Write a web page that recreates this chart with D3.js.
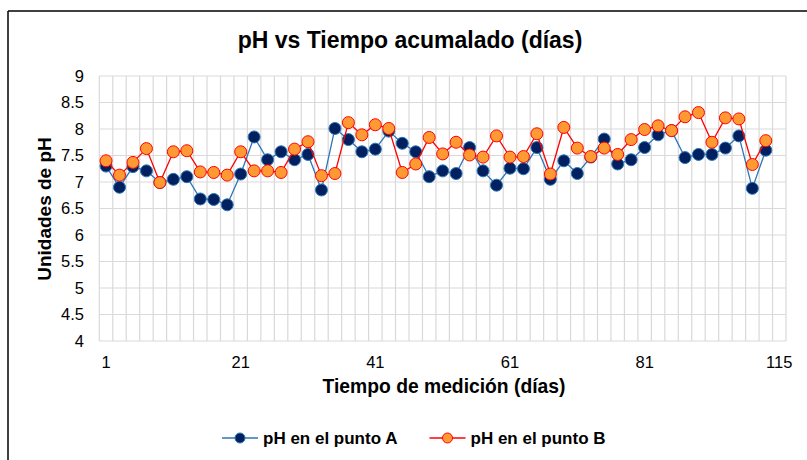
<!DOCTYPE html>
<html>
<head>
<meta charset="utf-8">
<script src="https://cdn.jsdelivr.net/npm/d3@7"></script>
<style>
  html, body { margin: 0; padding: 0; background: #fff; }
  svg { display: block; font-family: "Liberation Sans", Arial, sans-serif; }
</style>
</head>
<body>
<svg id="chart" width="807" height="460"></svg>
<script>
// ---- Data ----
const days = [1,3,5,7,9,11,13,15,17,19,21,23,25,27,29,31,33,35,37,39,
              41,43,45,47,49,51,53,55,57,59,61,63,65,67,69,71,73,75,77,79,
              81,83,85,87,89,91,93,95,97,99,115];
const phA = [7.30,6.90,7.29,7.21,6.99,7.05,7.10,6.68,6.67,6.57,
             7.15,7.85,7.42,7.57,7.42,7.52,6.85,8.01,7.80,7.57,
             7.62,7.96,7.73,7.57,7.10,7.21,7.16,7.65,7.21,6.94,
             7.26,7.25,7.65,7.05,7.40,7.16,7.47,7.81,7.34,7.42,
             7.65,7.89,7.97,7.46,7.52,7.52,7.64,7.87,6.88,7.60,null];
const phB = [7.40,7.13,7.37,7.63,6.99,7.57,7.59,7.19,7.18,7.13,
             7.57,7.21,7.21,7.18,7.62,7.76,7.12,7.16,8.12,7.89,
             8.08,8.01,7.18,7.34,7.84,7.53,7.75,7.51,7.47,7.87,
             7.47,7.48,7.91,7.15,8.03,7.64,7.48,7.64,7.52,7.80,
             7.99,8.06,7.97,8.23,8.31,7.75,8.21,8.19,7.33,7.78,null];
const yTicks = [4,4.5,5,5.5,6,6.5,7,7.5,8,8.5,9];
const xTickLabels = [1,21,41,61,81,115];
const seriesNames = ["pH en el punto A", "pH en el punto B"];

(function () {
// ---- Layout ----
const svg = d3.select("#chart");
const pLeft = 99.3, pRight = 786, pTop = 76, pBottom = 341;

const x = d3.scaleBand().domain(days.map(String)).range([pLeft, pRight]).padding(0);
const y = d3.scaleLinear().domain([4, 9]).range([pBottom, pTop]);
const cx = d => x(String(d)) + x.bandwidth() / 2;

// outer border (top and left)
svg.append("line").attr("x1", 8).attr("x2", 807).attr("y1", 11).attr("y2", 11)
  .attr("stroke", "#000").attr("stroke-width", 1.5);
svg.append("line").attr("x1", 8).attr("x2", 8).attr("y1", 11).attr("y2", 460)
  .attr("stroke", "#000").attr("stroke-width", 1.5);

// title
svg.append("text").attr("x", 410).attr("y", 48).attr("text-anchor", "middle")
  .attr("font-size", 23).attr("font-weight", "bold").attr("fill", "#000")
  .text("pH vs Tiempo acumalado (días)");

// gridlines
const grid = svg.append("g").attr("stroke", "#d9d9d9").attr("stroke-width", 1.2);
yTicks.forEach(t => {
  grid.append("line").attr("x1", pLeft).attr("x2", pRight)
    .attr("y1", y(t)).attr("y2", y(t));
});
for (let i = 0; i <= days.length; i++) {
  const gx = pLeft + i * x.step();
  grid.append("line").attr("x1", gx).attr("x2", gx).attr("y1", pTop).attr("y2", pBottom);
}

// y axis labels
const yAxis = d3.axisLeft(y).tickValues(yTicks).tickSize(0).tickPadding(0)
  .tickFormat(d3.format(""));
svg.append("g").attr("transform", `translate(${84},0)`).call(yAxis)
  .call(g => g.select(".domain").remove())
  .call(g => g.selectAll("text").attr("font-size", 16.5).attr("fill", "#000")
    .attr("font-family", "Liberation Sans, Arial, sans-serif"));

// x axis labels
const xAxis = d3.axisBottom(x).tickValues(xTickLabels.map(String)).tickSize(0).tickPadding(0);
svg.append("g").attr("transform", `translate(0,${356})`).call(xAxis)
  .call(g => g.select(".domain").remove())
  .call(g => g.selectAll("text").attr("font-size", 16.5).attr("fill", "#000")
    .attr("font-family", "Liberation Sans, Arial, sans-serif"));

// axis titles
svg.append("text").attr("x", 444).attr("y", 393).attr("text-anchor", "middle")
  .attr("font-size", 19.3).attr("font-weight", "bold").text("Tiempo de medición (días)");
svg.append("text").attr("transform", "translate(50.5,209) rotate(-90)")
  .attr("text-anchor", "middle").attr("font-size", 19).attr("font-weight", "bold")
  .text("Unidades de pH");

// series
const styles = [
  { data: phA, line: "#2E75B6", fill: "#002060", stroke: "#2E75B6" },
  { data: phB, line: "#FF0000", fill: "#FF9933", stroke: "#FF0000" }
];
const lineGen = d3.line()
  .defined(d => d.v != null)
  .x(d => cx(d.day)).y(d => y(d.v));

styles.forEach(s => {
  const pts = days.map((d, i) => ({ day: d, v: s.data[i] }));
  const g = svg.append("g");
  g.append("path").datum(pts).attr("d", lineGen)
    .attr("fill", "none").attr("stroke", s.line).attr("stroke-width", 1.3);
  g.selectAll("circle").data(pts.filter(p => p.v != null)).join("circle")
    .attr("cx", p => cx(p.day)).attr("cy", p => y(p.v)).attr("r", 6)
    .attr("fill", s.fill).attr("stroke", s.stroke).attr("stroke-width", 1);
});

// legend
const legendX = [222, 429.5];
seriesNames.forEach((name, i) => {
  const s = styles[i];
  const lx = legendX[i], ly = 438;
  const g = svg.append("g");
  g.append("line").attr("x1", lx).attr("x2", lx + 36).attr("y1", ly).attr("y2", ly)
    .attr("stroke", s.line).attr("stroke-width", 1.3);
  g.append("circle").attr("cx", lx + 18).attr("cy", ly).attr("r", 5)
    .attr("fill", s.fill).attr("stroke", s.stroke).attr("stroke-width", 1);
  g.append("text").attr("x", lx + 41).attr("y", ly + 6)
    .attr("font-size", 17).attr("font-weight", "bold").text(name);
});
})();
</script>
</body>
</html>
